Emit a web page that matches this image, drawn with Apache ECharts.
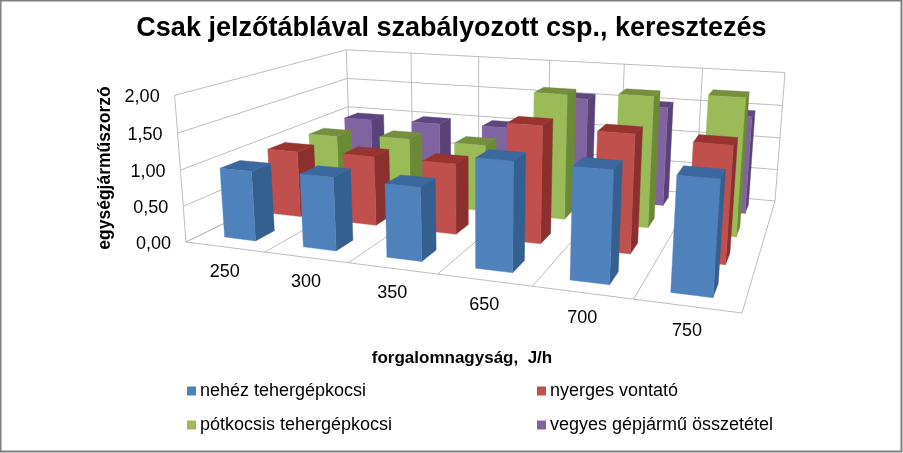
<!DOCTYPE html>
<html><head><meta charset="utf-8">
<style>html,body{margin:0;padding:0;background:#fff}#c{width:903px;height:453px}</style>
<script src="https://cdn.jsdelivr.net/npm/echarts@6/dist/echarts.min.js"></script></head>
<body><div id="c"></div>
<script>
const categories = ['250','300','350','650','700','750'];
const yTicks = [0,0.5,1,1.5,2];
const yTickLabels = ['0,00','0,50','1,00','1,50','2,00'];
const nehez = [0.97,1.0,0.98,1.42,1.42,1.42];
const nyerges = [0.97,1.0,1.0,1.62,1.6,1.55];
const potkocsis = [0.95,1.0,1.0,1.83,1.88,1.94];
const vegyes = [0.98,1.0,1.02,1.56,1.51,1.46];
const title = 'Csak jelzőtáblával szabályozott csp., keresztezés';
const yName = 'egységjárműszorzó';
const xName = 'forgalomnagyság,  J/h';
const names = ['nehéz tehergépkocsi','nyerges vontató','pótkocsis tehergépkocsi','vegyes gépjármű összetétel'];

const FONT = '"Liberation Sans", Arial, sans-serif';
const GW = 600, GH = 400, NX = categories.length, NY = names.length, ZMAX = 2;

// camera calibration: corners of the 3D box in the page
const floor = [[0,0,186,242],[NX,0,742,313],[NX,NY,775,201],[0,NY,350,162]];
const tops = [[0,0,175,97],[0,NY,346,49],[NX,NY,785,72]];
function solve(A,b){const n=b.length;const m=A.map((r,i)=>r.concat(b[i]));
  for(let i=0;i<n;i++){let p=i;for(let k=i+1;k<n;k++)if(Math.abs(m[k][i])>Math.abs(m[p][i]))p=k;
    [m[i],m[p]]=[m[p],m[i]];
    for(let k=0;k<n;k++){if(k===i)continue;const f=m[k][i]/m[i][i];for(let j=i;j<=n;j++)m[k][j]-=f*m[i][j];}}
  return m.map((r,i)=>r[n]/r[i]);}
const HA=[],Hb=[];
floor.forEach(([x,y,u,v])=>{HA.push([x,y,1,0,0,0,-u*x,-u*y]);Hb.push(u);HA.push([0,0,0,x,y,1,-v*x,-v*y]);Hb.push(v);});
const h=solve(HA,Hb);h.push(1);
const LA=[],Lb=[];
tops.forEach(([x,y,u,v])=>{const a=h[0]*x+h[1]*y+h[2],b=h[3]*x+h[4]*y+h[5],w=h[6]*x+h[7]*y+h[8];
  LA.push([ZMAX,0,-u*ZMAX]);Lb.push(u*w-a);LA.push([0,ZMAX,-v*ZMAX]);Lb.push(v*w-b);});
const NA=[[0,0,0],[0,0,0],[0,0,0]],Nb=[0,0,0];
LA.forEach((r,k)=>{for(let i=0;i<3;i++){Nb[i]+=r[i]*Lb[k];for(let j=0;j<3;j++)NA[i][j]+=r[i]*r[j];}});
const c=solve(NA,Nb);
function P(x,y,z){const w=h[6]*x+h[7]*y+c[2]*z+h[8];
  return [(h[0]*x+h[1]*y+c[0]*z+h[2])/w,(h[3]*x+h[4]*y+c[1]*z+h[5])/w];}

// read x/value through the (hidden) ECharts axes
function scaled(api,cat,val){const p=api.coord([cat,val]);return [p[0]/GW*NX,(GH-p[1])/GH*ZMAX];}

const XI=0.3, YI=0.3;
const palettes=[
 {f:'#4F81BD',s:'#34608F',t:'#3A689F'},
 {f:'#C0504D',s:'#8B302E',t:'#98332F'},
 {f:'#9BBB59',s:'#6A8A36',t:'#758F3E'},
 {f:'#8064A2',s:'#5A4178',t:'#5E457F'}];
function poly(points,fill){return {type:'polygon',shape:{points},style:{fill,stroke:fill,lineWidth:0.4}};}
function barSeries(idx,values){
  const pal=palettes[idx];
  return {type:'custom',name:names[idx],coordinateSystem:'cartesian2d',silent:true,
    itemStyle:{color:pal.f},
    data:values.map((v,i)=>[i,v]),
    renderItem:(params,api)=>{
      const [cx,z]=scaled(api,api.value(0),api.value(1));
      const x0=cx-0.5+XI,x1=cx+0.5-XI,y0=idx+YI,y1=idx+1-YI;
      return {type:'group',children:[
        poly([P(x1,y0,0),P(x1,y1,0),P(x1,y1,z),P(x1,y0,z)],pal.s),
        poly([P(x0,y0,z),P(x1,y0,z),P(x1,y1,z),P(x0,y1,z)],pal.t),
        poly([P(x0,y0,0),P(x1,y0,0),P(x1,y0,z),P(x0,y0,z)],pal.f)
      ]};
    }};
}
const GRID='#BDBDBD';
function line(a,b){return {type:'line',shape:{x1:a[0],y1:a[1],x2:b[0],y2:b[1]},style:{stroke:GRID,lineWidth:1}};}
const yWall={type:'custom',coordinateSystem:'cartesian2d',silent:true,
  data:yTicks.map((t,i)=>[0,t,i]),
  renderItem:(params,api)=>{
    const [,z]=scaled(api,0,api.value(1));const i=api.value(2);
    const l=P(0,0,z);
    return {type:'group',children:[
      line(l,P(0,NY,z)),line(P(0,NY,z),P(NX,NY,z)),
      {type:'text',style:{text:yTickLabels[i],x:l[0]-15,y:l[1]+2,align:'right',verticalAlign:'middle',font:'18px '+FONT,fill:'#000'}}
    ]};
  }};
const xWall={type:'custom',coordinateSystem:'cartesian2d',silent:true,
  data:categories.map((t,i)=>[i,0]),
  renderItem:(params,api)=>{
    const i=api.value(0);const [cx]=scaled(api,i,0);const x=cx+0.5;
    const kids=[line(P(x,0,0),P(x,NY,0)),line(P(x,NY,0),P(x,NY,ZMAX))];
    if(i===0){kids.push(line(P(0,0,0),P(0,NY,0)),line(P(0,NY,0),P(0,NY,ZMAX)),line(P(0,0,0),P(0,0,ZMAX)),line(P(0,0,0),P(NX,0,0)));}
    const m=P(cx,0,0);
    kids.push({type:'text',style:{text:categories[i],x:m[0],y:m[1]+25,align:'center',verticalAlign:'middle',font:'18px '+FONT,fill:'#000'}});
    return {type:'group',children:kids};
  }};
const legendCommon={orient:'vertical',itemWidth:9,itemHeight:9,itemGap:16,icon:'rect',selectedMode:false,top:377,
  textStyle:{fontFamily:FONT,fontSize:18,color:'#000',padding:[0,0,0,-1]}};
const chart=echarts.init(document.getElementById('c'));
chart.setOption({
  animation:false,backgroundColor:'#fff',
  title:{text:title,left:'center',top:15,padding:0,textStyle:{fontFamily:FONT,fontSize:27,fontWeight:'bold',color:'#000'}},
  grid:{left:0,top:0,width:GW,height:GH,show:false},
  xAxis:{type:'category',data:categories,show:false},
  yAxis:{type:'value',min:0,max:ZMAX,interval:0.5,show:false},
  legend:[Object.assign({},legendCommon,{left:182,data:[names[0],names[2]]}),
          Object.assign({},legendCommon,{left:532,data:[names[1],names[3]]})],
  series:[yWall,xWall,barSeries(3,vegyes),barSeries(2,potkocsis),barSeries(1,nyerges),barSeries(0,nehez)],
  graphic:[
    {type:'rect',silent:true,shape:{x:0.5,y:0.5,width:901,height:451},style:{fill:'none',stroke:'#7F7F7F',lineWidth:2}},
    {type:'text',silent:true,x:105,y:168,rotation:Math.PI/2,style:{text:yName,align:'center',verticalAlign:'middle',font:'bold 17.5px '+FONT,fill:'#000'}},
    {type:'text',silent:true,x:462,y:358,style:{text:xName,align:'center',verticalAlign:'middle',font:'bold 17px '+FONT,fill:'#000'}}
  ]
});
</script></body></html>
